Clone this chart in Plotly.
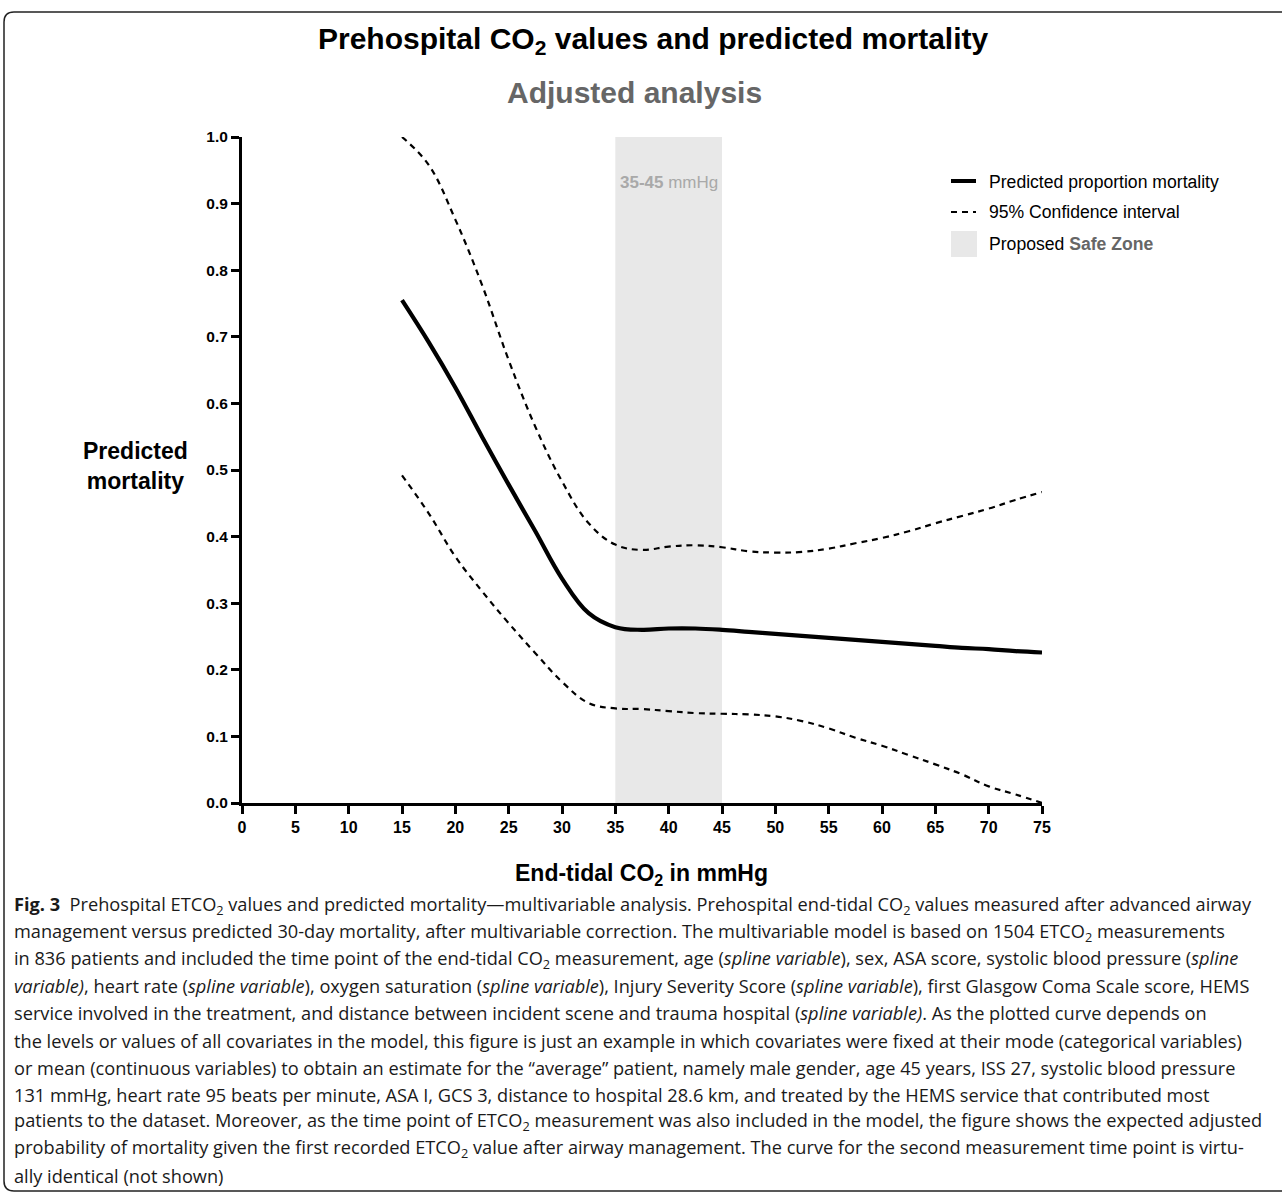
import plotly.graph_objects as go

# ---------------- data ----------------
etco2 = [15, 17.5, 20, 22.5, 25, 27.5, 30, 32.5, 35, 37.5, 40, 42.5, 45,
         47.5, 50, 52.5, 55, 57.5, 60, 62.5, 65, 67.5, 70, 72.5, 75]
pred_mortality = [0.755, 0.692, 0.624, 0.550, 0.478, 0.408, 0.337, 0.285, 0.264, 0.260,
                  0.262, 0.262, 0.260, 0.257, 0.254, 0.251, 0.248, 0.245, 0.242, 0.239,
                  0.236, 0.233, 0.231, 0.228, 0.226]
ci_upper = [1.000, 0.958, 0.876, 0.778, 0.665, 0.565, 0.483, 0.420, 0.388, 0.380,
            0.385, 0.387, 0.384, 0.378, 0.376, 0.377, 0.382, 0.390, 0.398, 0.408,
            0.420, 0.431, 0.442, 0.455, 0.467]
ci_lower = [0.492, 0.435, 0.370, 0.318, 0.270, 0.225, 0.182, 0.150, 0.142, 0.141,
            0.138, 0.135, 0.134, 0.133, 0.130, 0.123, 0.112, 0.098, 0.086, 0.072,
            0.058, 0.043, 0.025, 0.013, 0.000]
safe_zone = [35, 45]
x_ticks = list(range(0, 80, 5))
y_ticks = [round(0.1 * i, 1) for i in range(11)]

caption_lines = [
    "<b>Fig. 3</b>  Prehospital ETCO<sub>2</sub> values and predicted mortality\u2014multivariable analysis. Prehospital end-tidal CO<sub>2</sub> values measured after advanced airway",
    "management versus predicted 30-day mortality, after multivariable correction. The multivariable model is based on 1504 ETCO<sub>2</sub> measurements",
    "in 836 patients and included the time point of the end-tidal CO<sub>2</sub> measurement, age (<i>spline variable</i>), sex, ASA score, systolic blood pressure (<i>spline</i>",
    "<i>variable)</i>, heart rate (<i>spline variable</i>), oxygen saturation (<i>spline variable</i>), Injury Severity Score (<i>spline variable</i>), first Glasgow Coma Scale score, HEMS",
    "service involved in the treatment, and distance between incident scene and trauma hospital (<i>spline variable)</i>. As the plotted curve depends on",
    "the levels or values of all covariates in the model, this figure is just an example in which covariates were fixed at their mode (categorical variables)",
    "or mean (continuous variables) to obtain an estimate for the \u201caverage\u201d patient, namely male gender, age 45 years, ISS 27, systolic blood pressure",
    "131 mmHg, heart rate 95 beats per minute, ASA I, GCS 3, distance to hospital 28.6 km, and treated by the HEMS service that contributed most",
    "patients to the dataset. Moreover, as the time point of ETCO<sub>2</sub> measurement was also included in the model, the figure shows the expected adjusted",
    "probability of mortality given the first recorded ETCO<sub>2</sub> value after airway management. The curve for the second measurement time point is virtu-",
    "ally identical (not shown)",
]

# ---------------- layout geometry (pixels) ----------------
W, H = 1282, 1194
L, R, T, B = 242, 1042, 137, 803


def px(x):
    return (x - L) / (R - L)


def py(y):
    return (B - y) / (B - T)


ARIAL = "Liberation Sans, Arial, sans-serif"
CAP = "Open Sans, Noto Sans, sans-serif"

fig = go.Figure()

fig.add_trace(go.Scatter(x=etco2, y=ci_upper, mode="lines",
                         line=dict(color="black", width=2.2, dash="6px,5px", shape="spline", smoothing=1.1),
                         showlegend=False, hoverinfo="skip"))
fig.add_trace(go.Scatter(x=etco2, y=ci_lower, mode="lines",
                         line=dict(color="black", width=2.2, dash="6px,5px", shape="spline", smoothing=1.1),
                         showlegend=False, hoverinfo="skip"))
fig.add_trace(go.Scatter(x=etco2, y=pred_mortality, mode="lines",
                         line=dict(color="black", width=4.2, shape="spline", smoothing=1.1),
                         showlegend=False))

shapes = []
# safe zone shading
shapes.append(dict(type="rect", xref="x", yref="y", x0=safe_zone[0], x1=safe_zone[1],
                   y0=0, y1=1.0, fillcolor="#e8e8e8", line=dict(width=0), layer="below"))

# legend samples
shapes.append(dict(type="line", xref="paper", yref="paper", x0=px(951), x1=px(976),
                   y0=py(181), y1=py(181), line=dict(color="black", width=4)))
shapes.append(dict(type="line", xref="paper", yref="paper", x0=px(951), x1=px(976),
                   y0=py(212), y1=py(212), line=dict(color="black", width=2, dash="6px,5px")))
shapes.append(dict(type="rect", xref="paper", yref="paper", x0=px(951), x1=px(977),
                   y0=py(257), y1=py(231), fillcolor="#e8e8e8", line=dict(width=0)))

# outer frame (rounded, open to the right)
x0f, y0f, x1f, y1f, rr = 4, 12, 1300, 1191, 10


def P(x, y):
    return f"{px(x):.5f},{py(y):.5f}"


frame_path = (f"M {P(x1f, y0f)} L {P(x0f + rr, y0f)} Q {P(x0f, y0f)} {P(x0f, y0f + rr)} "
              f"L {P(x0f, y1f - rr)} Q {P(x0f, y1f)} {P(x0f + rr, y1f)} L {P(x1f, y1f)}")
shapes.append(dict(type="path", xref="paper", yref="paper", path=frame_path,
                   line=dict(color="#222222", width=1.5)))

ann = []
ann.append(dict(text="Prehospital CO<sub>2</sub> values and predicted mortality",
                x=px(653), y=py(41), xref="paper", yref="paper", showarrow=False,
                xanchor="center", yanchor="middle",
                font=dict(family=ARIAL, size=30, color="black", weight="bold")))
ann.append(dict(text="Adjusted analysis",
                x=px(634), y=py(92), xref="paper", yref="paper", showarrow=False,
                xanchor="center", yanchor="middle",
                font=dict(family=ARIAL, size=30, color="#666666", weight="bold")))
ann.append(dict(text="Predicted<br>mortality",
                x=px(135), y=py(466), xref="paper", yref="paper", showarrow=False,
                xanchor="center", yanchor="middle",
                font=dict(family=ARIAL, size=23, color="black", weight="bold")))
ann.append(dict(text="End-tidal CO<sub>2</sub> in mmHg",
                x=px(641), y=py(874), xref="paper", yref="paper", showarrow=False,
                xanchor="center", yanchor="middle",
                font=dict(family=ARIAL, size=23, color="black", weight="bold")))
ann.append(dict(text="<b>35-45</b> mmHg",
                x=(safe_zone[0] + safe_zone[1]) / 2, y=py(182), xref="x", yref="paper",
                showarrow=False, xanchor="center", yanchor="middle",
                font=dict(family=ARIAL, size=17, color="#a9a9a9")))
legend_texts = ["Predicted proportion mortality", "95% Confidence interval",
                "Proposed <b><span style='color:#666666'>Safe Zone</span></b>"]
for t, yy in zip(legend_texts, [182, 212, 244]):
    ann.append(dict(text=t, x=px(987), y=py(yy), xref="paper", yref="paper", showarrow=False,
                    xanchor="left", yanchor="middle",
                    font=dict(family=ARIAL, size=17.6, color="black")))

cap_top, cap_step = 905, 27.1
for i, line in enumerate(caption_lines):
    ann.append(dict(text=line, x=px(12), y=py(cap_top + i * cap_step), xref="paper", yref="paper",
                    showarrow=False, xanchor="left", yanchor="middle", align="left",
                    font=dict(family=CAP, size=18.2, color="#1a1a1a")))

fig.update_layout(
    width=W, height=H,
    margin=dict(l=L, r=W - R, t=T, b=H - B, pad=0),
    paper_bgcolor="white", plot_bgcolor="white",
    showlegend=False,
    shapes=shapes, annotations=ann,
    xaxis=dict(range=[0, 75], tickvals=x_ticks, ticktext=[str(v) for v in x_ticks],
               showline=True, linewidth=3, linecolor="black", ticks="outside",
               ticklen=8, tickwidth=3, tickcolor="black", showgrid=False, zeroline=False,
               tickfont=dict(family=ARIAL, size=16, color="black", weight="bold")),
    yaxis=dict(range=[0, 1], tickvals=y_ticks, ticktext=[f"{v:.1f}" for v in y_ticks],
               showline=True, linewidth=3, linecolor="black", ticks="outside",
               ticklen=8, tickwidth=3, tickcolor="black", showgrid=False, zeroline=False,
               tickfont=dict(family=ARIAL, size=15.5, color="black", weight="bold")),
)

fig.write_html("out.html", config={"displayModeBar": False},
               post_script="document.body.style.margin='0';document.body.style.overflow='hidden';")
